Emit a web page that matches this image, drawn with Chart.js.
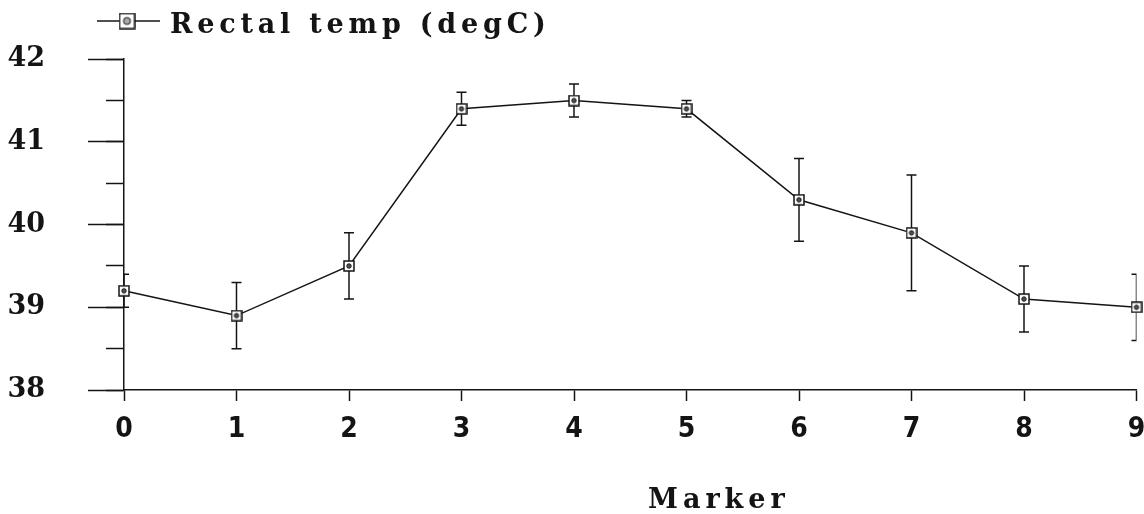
<!DOCTYPE html>
<html lang="en">
<head>
  <meta charset="utf-8">
  <title>Rectal temp (degC) by marker</title>
  <style>
    html, body { margin: 0; padding: 0; background: #fff; }
    .chart { position: relative; width: 1144px; height: 514px; }
  </style>
</head>
<body>
  <div class="chart">
    <canvas id="chart"></canvas>
  </div>
  <script src="https://cdn.jsdelivr.net/npm/chart.js@4.4.1/dist/chart.umd.min.js"></script>
  <script>
    // data
    const markers = ['0', '1', '2', '3', '4', '5', '6', '7', '8', '9'];
    const rectalTemp = [39.2, 38.9, 39.5, 41.4, 41.5, 41.4, 40.3, 39.9, 39.1, 39.0];
    const rectalTempErr = [0.2, 0.4, 0.4, 0.2, 0.2, 0.1, 0.5, 0.7, 0.4, 0.4];
    const yTicks = [38, 39, 40, 41, 42];
    const seriesLabel = 'Rectal temp (degC)';
    const xTitle = 'Marker';

    const ink = '#141414';
    const serifBold = '"DejaVu Serif", serif';
    const narrowBold = '"Liberation Sans Narrow", "DejaVu Sans Condensed", "Liberation Sans", sans-serif';

    // square marker with a dot in the middle
    function markImage(size, dot, dotFill) {
      const c = document.createElement('canvas');
      c.width = c.height = size;
      const g = c.getContext('2d');
      g.fillStyle = '#fff';
      g.fillRect(1, 1, size - 2, size - 2);
      g.strokeStyle = ink;
      g.lineWidth = 1.5;
      g.strokeRect(1, 1, size - 2, size - 2);
      g.beginPath();
      g.arc(size / 2, size / 2, dot, 0, Math.PI * 2);
      g.fillStyle = dotFill;
      g.fill();
      g.lineWidth = 1;
      g.stroke();
      return c;
    }
    const pointMark = markImage(12, 2.2, '#555');
    const legendMark = markImage(17, 3.5, '#aaa');

    // vertical error bars, clipped to the plot area like the original
    const errorBars = {
      id: 'errorBars',
      beforeDatasetsDraw(chart) {
        const { ctx, chartArea: a, scales: { y } } = chart;
        const meta = chart.getDatasetMeta(0);
        ctx.save();
        ctx.beginPath();
        ctx.rect(a.left, 0, a.right - a.left, chart.height);
        ctx.clip();
        ctx.strokeStyle = ink;
        ctx.lineWidth = 1.5;
        meta.data.forEach((pt, i) => {
          const hi = y.getPixelForValue(rectalTemp[i] + rectalTempErr[i]);
          const lo = y.getPixelForValue(rectalTemp[i] - rectalTempErr[i]);
          ctx.beginPath();
          ctx.moveTo(pt.x, hi); ctx.lineTo(pt.x, lo);
          ctx.moveTo(pt.x - 5, hi); ctx.lineTo(pt.x + 5, hi);
          ctx.moveTo(pt.x - 5, lo); ctx.lineTo(pt.x + 5, lo);
          ctx.stroke();
        });
        ctx.restore();
      }
    };

    // legend line and the x axis title, both letter spaced
    const spacedText = {
      id: 'spacedText',
      afterDraw(chart) {
        const ctx = chart.ctx;
        ctx.save();
        ctx.strokeStyle = ink;
        ctx.lineWidth = 1.5;
        ctx.beginPath();
        ctx.moveTo(97, 21); ctx.lineTo(160, 21);
        ctx.stroke();
        ctx.drawImage(legendMark, 127 - legendMark.width / 2, 21 - legendMark.height / 2);

        ctx.fillStyle = ink;
        ctx.textAlign = 'left';
        ctx.textBaseline = 'alphabetic';
        ctx.font = 'bold 27px ' + serifBold;
        ctx.letterSpacing = '4.8px';
        ctx.fillText(chart.data.datasets[0].label, 170, 33);
        ctx.letterSpacing = '5px';
        ctx.fillText(xTitle, 648, 508);
        ctx.restore();
      }
    };

    new Chart(document.getElementById('chart'), {
      type: 'line',
      data: {
        labels: markers,
        datasets: [{
          label: seriesLabel,
          data: rectalTemp,
          borderColor: ink,
          borderWidth: 1.5,
          pointStyle: pointMark,
          pointRadius: 6,
          tension: 0,
          clip: false
        }]
      },
      options: {
        responsive: true,
        maintainAspectRatio: false,
        animation: false,
        layout: { padding: { top: 53, right: 7, left: 0, bottom: 0 } },
        plugins: {
          legend: { display: false },
          tooltip: { enabled: false }
        },
        scales: {
          x: {
            grid: { drawOnChartArea: false, tickLength: 11, tickColor: ink, tickWidth: 1.5 },
            border: { color: ink, width: 1.5 },
            ticks: { color: ink, padding: 12, font: { family: narrowBold, weight: 'bold', size: 28 } },
            afterFit: s => {
              s.height = 124;
              s.paddingLeft = 0;
              s.paddingRight = 7;
            }
          },
          y: {
            position: 'left',
            weight: 1,
            min: 38,
            max: 42,
            afterBuildTicks: s => { s.ticks = yTicks.map(v => ({ value: v })); },
            grid: { drawOnChartArea: false, tickLength: 36, tickColor: ink, tickWidth: 1.5 },
            border: { color: ink, width: 1.5 },
            ticks: { color: ink, padding: 43, font: { family: serifBold, weight: 'bold', size: 27 } },
            afterFit: s => { s.width = 124; }
          },
          yMinor: {
            position: 'left',
            weight: 0,
            min: 38,
            max: 42,
            ticks: { display: false, stepSize: 0.5 },
            grid: { drawOnChartArea: false, tickLength: 18, tickColor: ink, tickWidth: 1.5 },
            border: { display: false },
            afterFit: s => { s.width = 0; }
          }
        }
      },
      plugins: [errorBars, spacedText]
    });
  </script>
</body>
</html>
